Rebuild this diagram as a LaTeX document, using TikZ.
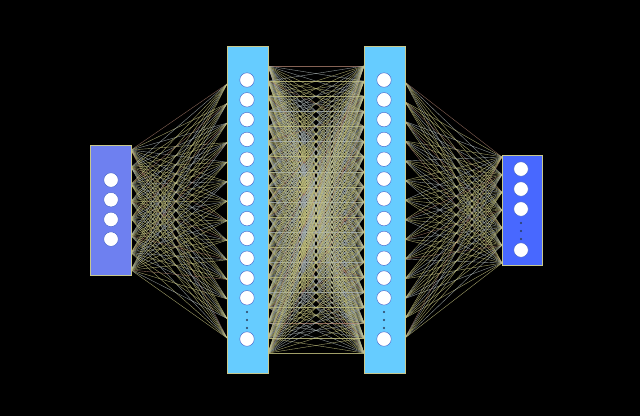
\documentclass[tikz,border=0pt]{standalone}
\usepackage{tikz}
\begin{document}
\begin{tikzpicture}[x=1pt,y=-1pt,
  conn/.style={line width=0.4pt, draw={rgb,255:red,200;green,198;blue,130}, opacity=0.8},
  connr/.style={line width=0.4pt, draw={rgb,255:red,190;green,140;blue,120}, opacity=0.7},
  connb/.style={line width=0.4pt, draw={rgb,255:red,175;green,185;blue,185}, opacity=0.8},
  layerbox/.style={draw={rgb,255:red,200;green,200;blue,140}, line width=0.6pt},
  neuron/.style={circle, fill=white, draw={rgb,255:red,60;green,90;blue,200}, line width=0.4pt, minimum size=14.5pt, inner sep=0pt},
  gap/.style={circle, fill={rgb,255:red,40;green,60;blue,90}, minimum size=2.2pt, inner sep=0pt}]
\useasboundingbox (0,0) rectangle (640,416);
\fill[black] (0,0) rectangle (640,416);
% edge coordinates
\foreach \i in {0,...,7} { \coordinate (in\i) at (131,{150+\i*120/7}); }
\foreach \i in {0,...,13} { \coordinate (ha\i) at (227,{84+\i*254/13}); }
\foreach \i in {0,...,19} { \coordinate (hb\i) at (268,{66+\i*287/19}); }
\foreach \i in {0,...,19} { \coordinate (hc\i) at (364,{66+\i*287/19}); }
\foreach \i in {0,...,13} { \coordinate (hd\i) at (405,{82+\i*256/13}); }
\foreach \i in {0,...,6} { \coordinate (out\i) at (502,{157+\i*106/6}); }
% connections
\foreach \i in {0,...,7} { \foreach \j in {0,...,13} {
  \pgfmathtruncatemacro{\k}{mod(\i*3+\j*7,13)}
  \ifnum\k=0 \draw[connr] (in\i) -- (ha\j); \else \ifnum\k<5 \draw[connb] (in\i) -- (ha\j); \else \draw[conn] (in\i) -- (ha\j); \fi\fi
}}
\foreach \i in {0,...,19} { \foreach \j in {0,...,19} {
  \pgfmathtruncatemacro{\k}{mod(\i*5+\j*3,17)}
  \ifnum\k=0 \draw[connr] (hb\i) -- (hc\j); \else \ifnum\k<8 \draw[connb] (hb\i) -- (hc\j); \else \draw[conn] (hb\i) -- (hc\j); \fi\fi
}}
\foreach \i in {0,...,13} { \foreach \j in {0,...,6} {
  \pgfmathtruncatemacro{\k}{mod(\i*7+\j*3,13)}
  \ifnum\k=0 \draw[connr] (hd\i) -- (out\j); \else \ifnum\k<5 \draw[connb] (hd\i) -- (out\j); \else \draw[conn] (hd\i) -- (out\j); \fi\fi
}}
% boxes
\draw[layerbox, fill={rgb,255:red,110;green,128;blue,240}] (90,145) rectangle (131,275);
\draw[layerbox, fill={rgb,255:red,102;green,204;blue,255}] (227,46) rectangle (268,373);
\draw[layerbox, fill={rgb,255:red,102;green,204;blue,255}] (364,46) rectangle (405,373);
\draw[layerbox, fill={rgb,255:red,72;green,104;blue,255}] (502,155) rectangle (542,265);
% neurons
\foreach \i in {0,...,3} { \node[neuron] (x\i) at (111,{180+\i*19.7}) {}; }
\foreach \i in {0,...,11} {
  \node[neuron] (p\i) at (247,{80+\i*19.8}) {};
  \node[neuron] (q\i) at (384,{80+\i*19.8}) {};
}
\node[neuron] (pl) at (247,339) {};
\node[neuron] (ql) at (384,339) {};
\foreach \d in {0,1,2} {
  \node[gap] (pd\d) at (247,{312+\d*8}) {};
  \node[gap] (qd\d) at (384,{312+\d*8}) {};
  \node[gap] (od\d) at (521,{223+\d*8}) {};
}
\foreach \i in {0,...,2} { \node[neuron] (y\i) at (521,{169+\i*20}) {}; }
\node[neuron] (yl) at (521,250) {};
\end{tikzpicture}
\end{document}
